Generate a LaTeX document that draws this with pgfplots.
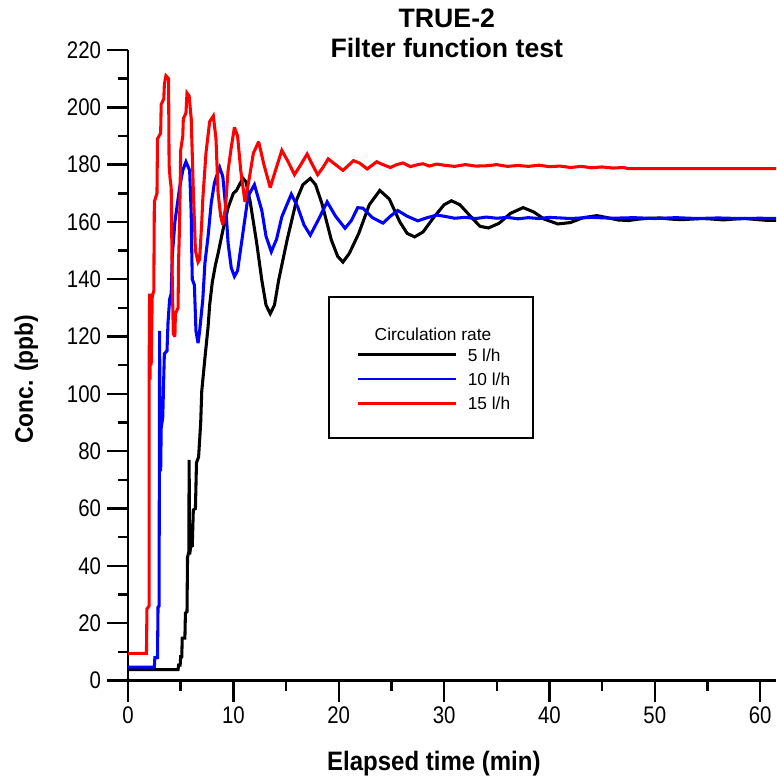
\documentclass[border=0pt]{standalone}
\usepackage{fontspec}
\setmainfont{Liberation Sans}
\newfontfamily\tickfont[FakeStretch=0.85]{Liberation Sans}
\newfontfamily\labfont[FakeStretch=0.9]{Liberation Sans}
\usepackage{pgfplots}
\pgfplotsset{compat=1.18}
\begin{document}
\begin{tikzpicture}
\begin{axis}[
  scale only axis,
  width=486pt, height=472.9pt,
  xmin=0, xmax=61.5, ymin=0, ymax=220,
  axis x line=bottom, axis y line=left,
  axis line style={-, line width=1.8pt},
  every tick/.style={black, line width=1.8pt},
  tick align=outside,
  major tick length=15.75pt, minor tick length=7.5pt,
  xtick={0,10,...,60}, ytick={0,20,...,220},
  minor x tick num=1, minor y tick num=1,
  /pgf/number format/assume math mode=true,
  tick label style={font=\tickfont\fontsize{18}{20}\selectfont},
  yticklabel style={anchor=east, xshift=-1pt},
  xticklabel style={anchor=north},
  title={TRUE-2\\Filter function test},
  title style={font=\bfseries\fontsize{20}{22.5}\selectfont, align=center, at={(axis description cs:0.492,1.0143)}, anchor=center},
  xlabel={Elapsed time (min)},
  xlabel style={font=\labfont\bfseries\fontsize{20}{22}\selectfont, at={(axis description cs:0.472,-0.131)}, anchor=center},
  ylabel={Conc. (ppb)},
  ylabel style={font=\labfont\bfseries\fontsize{19}{21}\selectfont, at={(axis description cs:-0.157,0.478)}, anchor=center, rotate=0},
  every axis plot/.style={line width=2.3pt, line join=miter, miter limit=3},
  clip=false,
]
% 5 l/h
\addplot[black] coordinates {
(0,3.8) (4.75,3.8) (4.8,5.4) (4.95,5.4) (5.0,8.3) (5.1,8.3) (5.15,14.8) (5.4,14.8) (5.45,23.5) (5.6,24) (5.65,43) (5.78,45) (5.8,77) (5.85,44) (5.95,46.7) (6.1,47) (6.2,59.5) (6.4,60) (6.5,76) (6.7,78) (6.8,84) (6.9,90) (7.0,101) (7.3,112.5) (7.6,123.4) (7.75,131) (8.0,139) (8.3,145) (8.55,149) (9.0,157) (9.5,165) (10.0,170) (10.3,171) (10.9,175.3) (11.2,174) (11.6,167) (12.2,153) (12.7,139.7) (13.1,131) (13.5,128) (13.9,131) (14.3,139.7) (15.1,153.7) (16.0,167.7) (16.6,173) (17.3,175.2) (17.8,173) (18.4,166.5) (19.3,153.7) (19.9,148) (20.4,146) (21.0,149) (21.9,156) (22.9,166) (23.9,171) (24.8,168) (25.8,160) (26.5,156) (27.2,154.8) (28.0,156.5) (29.0,161.5) (30.0,166) (30.7,167.4) (31.5,166) (32.5,162) (33.4,158.5) (34.2,157.9) (35.2,159.5) (36.3,163) (37.5,165) (38.5,163.5) (39.5,161) (40.8,159.3) (42,159.8) (43.2,161.5) (44.5,162.2) (45.5,161.5) (46.5,160.7) (47.5,160.5) (48.5,161) (49.5,161.3) (50.5,161.4) (51.5,161) (52.5,160.8) (53.5,161) (54.5,161.2) (55.5,161) (56.5,160.7) (57.5,161) (58.5,161.2) (59.5,160.9) (60.5,160.6) (61.5,160.6)
};
% 10 l/h
\addplot[blue] coordinates {
(0,4.7) (2.5,4.7) (2.55,8) (2.8,8) (2.85,25.6) (2.95,26) (3.0,122) (3.05,75) (3.1,73) (3.15,88) (3.3,92) (3.45,114) (3.7,115) (3.8,125) (3.95,133) (4.1,135) (4.2,148) (4.45,160) (4.75,168) (4.9,172) (5.2,178) (5.5,181) (5.85,178) (6.0,163) (6.05,150) (6.1,140) (6.3,138) (6.45,122) (6.65,117.7) (6.8,122) (7.1,133) (7.3,145.6) (7.6,155) (7.9,166.6) (8.2,173.6) (8.5,177) (8.7,179) (9.0,175.8) (9.3,164) (9.5,152.6) (9.8,144) (10.1,141) (10.4,143) (10.9,156) (11.4,169) (12.0,173) (12.7,164) (13.1,155) (13.6,149.6) (14.1,154) (14.6,161.8) (15.5,169.7) (16.1,165.3) (16.7,159) (17.3,155.4) (18.1,161) (18.9,167) (19.7,162) (20.6,157.8) (21.2,160.5) (21.8,165) (22.3,164.8) (23.2,161.5) (24.2,159.6) (24.9,162) (25.6,164) (26.5,162) (27.5,160.4) (28.4,161.5) (29.3,162.4) (30,162) (31,161.3) (32,161.6) (33,161.2) (34,161.7) (35,161.3) (36,161.6) (37,161.1) (38,161.5) (39,161.2) (40,161.6) (42,161.2) (44,161.6) (46,161.3) (48,161.5) (50,161.2) (52,161.5) (54,161.2) (56,161.4) (58,161.2) (60,161.3) (61.5,161.2)
};
% 15 l/h
\addplot[red] coordinates {
(0,9.5) (1.75,9.5) (1.8,25) (2.0,26) (2.0,105) (2.05,135) (2.1,105) (2.15,133) (2.2,110) (2.3,134) (2.45,136) (2.5,167) (2.75,170) (2.8,189) (3.1,191) (3.15,201) (3.4,203) (3.45,208) (3.6,211) (3.85,210) (3.9,180) (4.0,175) (4.1,172) (4.2,140) (4.3,121) (4.45,120) (4.5,128) (4.75,130) (4.8,146) (4.9,160) (5.0,185) (5.2,190) (5.25,196) (5.5,198) (5.6,205) (5.8,204) (6.0,196) (6.2,171) (6.4,150) (6.65,146) (6.8,147) (7.0,160) (7.1,168) (7.4,184) (7.75,195) (8.1,197) (8.35,189) (8.55,170) (8.8,162) (9.0,159) (9.25,165) (9.5,178) (9.8,186) (10.1,193) (10.4,190) (10.7,178) (11.1,167) (11.5,175) (11.9,184) (12.4,188) (12.9,180) (13.5,172) (14.0,178) (14.6,185) (15.2,181) (15.8,176.5) (16.4,180) (17.0,183.7) (17.5,180) (18.0,176.5) (18.5,179) (19.0,182) (19.7,180) (20.4,178) (21.0,180) (21.4,181.4) (22.0,180.5) (22.7,178.5) (23.6,181) (24.2,180) (24.9,179) (25.5,180) (26.1,180.6) (26.8,179.3) (27.5,180) (28,180.3) (28.6,179.5) (29.3,180.2) (30,179.8) (31,179.4) (32,180) (33,179.5) (34,179.6) (35,180) (36,179.4) (37,179.7) (38,179.4) (39,179.8) (40,179.3) (41,179.5) (42,179) (43,179.4) (44,178.9) (45,179.2) (46,178.8) (47,179.0) (47.5,178.6) (61.5,178.6)
};
% legend
\draw[line width=1.8pt] (axis cs:19.08,84.6) rectangle (axis cs:38.44,133.8);
\node[font=\fontsize{13}{15}\selectfont, anchor=center] at (axis cs:28.95,120.9) {Circulation rate};
\draw[black, line width=2.2pt] (axis cs:21.83,113.6) -- (axis cs:31.13,113.6);
\draw[blue, line width=2.2pt] (axis cs:21.83,105.2) -- (axis cs:31.13,105.2);
\draw[red, line width=2.2pt] (axis cs:21.83,96.8) -- (axis cs:31.13,96.8);
\node[font=\fontsize{13}{15}\selectfont, anchor=west] at (axis cs:31.8,113.6) {5 l/h};
\node[font=\fontsize{13}{15}\selectfont, anchor=west] at (axis cs:31.8,105.2) {10 l/h};
\node[font=\fontsize{13}{15}\selectfont, anchor=west] at (axis cs:31.8,96.8) {15 l/h};
\end{axis}
\pgfresetboundingbox
\path (-96pt,-73.1pt) rectangle (486pt,510.4pt);
\end{tikzpicture}
\end{document}
